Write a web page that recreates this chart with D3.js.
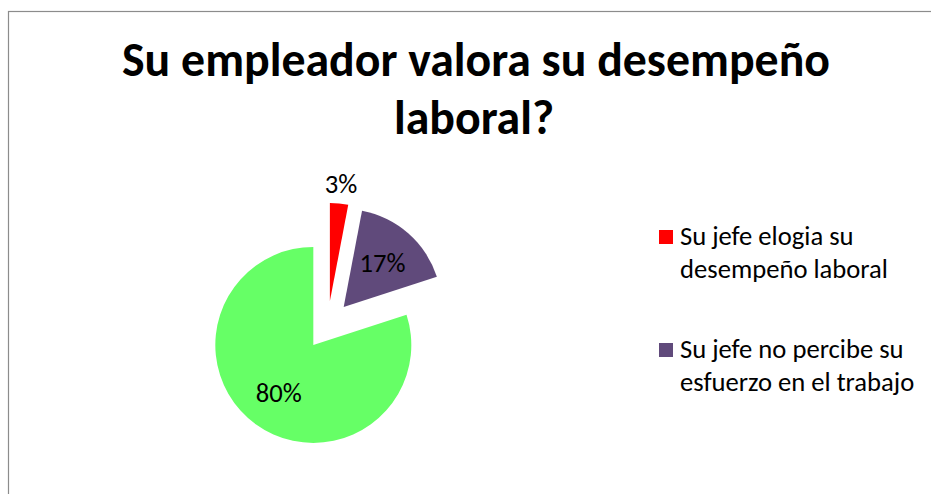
<!DOCTYPE html>
<html>
<head>
<meta charset="utf-8">
<script src="https://cdn.jsdelivr.net/npm/d3@7"></script>
<style>
  body { margin: 0; background: #fff; }
  svg { display: block; }
  text { font-family: Carlito, Calibri, Lato, sans-serif; fill: #000; }
</style>
</head>
<body>
<svg id="chart"></svg>
<script>
// Chart data
const titleLines = ["Su empleador valora su desempeño", "laboral?"];
const categories = ["Su jefe elogia su desempeño laboral", "Su jefe no percibe su esfuerzo en el trabajo", ""];
const values = [3, 17, 80];
const colors = ["#FF0000", "#604A7B", "#66FF66"];
const pctLabels = ["3%", "17%", "80%"];

const W = 931, H = 494;
const svg = d3.select('#chart').attr('width', W).attr('height', H);

// frame (only left and top visible in the picture)
svg.append('rect')
    .attr('x', 8.5).attr('y', 11.5)
    .attr('width', W + 20).attr('height', H + 20)
    .attr('fill', 'none')
    .attr('stroke', '#8c8c8c')
    .attr('stroke-width', 1.2);

// fit a text node to a target width by adjusting font size
function fitWidth(sel, target) {
    let size = parseFloat(sel.attr('font-size'));
    for (let i = 0; i < 3; i++) {
        const w = sel.node().getComputedTextLength();
        if (w > 0) size = size * target / w;
        sel.attr('font-size', size);
    }
    return size;
}

// title
const t1 = svg.append('text')
    .attr('x', 476).attr('y', 76)
    .attr('text-anchor', 'middle')
    .attr('font-weight', 'bold')
    .attr('font-size', 42)
    .text(titleLines[0]);
const titleSize = fitWidth(t1, 708);
svg.append('text')
    .attr('x', 474).attr('y', 134)
    .attr('text-anchor', 'middle')
    .attr('font-weight', 'bold')
    .attr('font-size', titleSize)
    .text(titleLines[1]);

// pie
const cx = 327.6, cy = 325.3, r = 98, explode = 24.3;
const pie = d3.pie().sort(null).value(d => d)(values);
const arc = d3.arc().innerRadius(0).outerRadius(r);

const g = svg.append('g').attr('transform', `translate(${cx},${cy})`);

function offset(d, dist) {
    const a = (d.startAngle + d.endAngle) / 2;
    return [Math.sin(a) * dist, -Math.cos(a) * dist];
}

const slices = g.selectAll('.slice')
    .data(pie)
    .enter().append('g')
    .attr('class', 'slice')
    .attr('transform', d => {
        const [ox, oy] = offset(d, explode);
        return `translate(${ox},${oy})`;
    });

slices.append('path')
    .attr('d', arc)
    .attr('fill', (d, i) => colors[i]);

// percentage labels: small slice outside, others inside
const probe = svg.append('text').attr('font-size', 24).text(pctLabels[1]);
const pctSize = fitWidth(probe, 46);
probe.remove();

slices.append('text')
    .attr('text-anchor', 'middle')
    .attr('dy', '0.35em')
    .attr('font-size', pctSize)
    .attr('transform', d => {
        const small = (d.endAngle - d.startAngle) < 0.3;
        const a = (d.startAngle + d.endAngle) / 2;
        const lr = small ? r * 1.2 : r * 0.6;
        return `translate(${Math.sin(a) * lr},${-Math.cos(a) * lr})`;
    })
    .text((d, i) => pctLabels[i]);

// legend
const legendItems = categories.map((c, i) => ({ name: c, color: colors[i] })).filter(d => d.name);
const legendX = 659, legendY = [230, 343];
const probe2 = svg.append('text').attr('font-size', 21).text('desempeño laboral');
const legSize = fitWidth(probe2, 208);
probe2.remove();

function wrap(str, maxW, size) {
    const words = str.split(' ');
    const lines = [];
    let line = [];
    const tmp = svg.append('text').attr('font-size', size);
    words.forEach(w => {
        line.push(w);
        tmp.text(line.join(' '));
        if (tmp.node().getComputedTextLength() > maxW && line.length > 1) {
            line.pop();
            lines.push(line.join(' '));
            line = [w];
        }
    });
    lines.push(line.join(' '));
    tmp.remove();
    return lines;
}

const leg = svg.selectAll('.legend')
    .data(legendItems)
    .enter().append('g')
    .attr('class', 'legend')
    .attr('transform', (d, i) => `translate(${legendX},${legendY[i]})`);

leg.append('rect')
    .attr('width', 14).attr('height', 14)
    .attr('fill', d => d.color);

leg.each(function(d) {
    const lines = wrap(d.name, 245, legSize);
    const txt = d3.select(this).append('text')
        .attr('font-size', legSize);
    lines.forEach((l, j) => {
        txt.append('tspan')
            .attr('x', 21)
            .attr('y', 15 + j * 33)
            .text(l);
    });
});
</script>
</body>
</html>
